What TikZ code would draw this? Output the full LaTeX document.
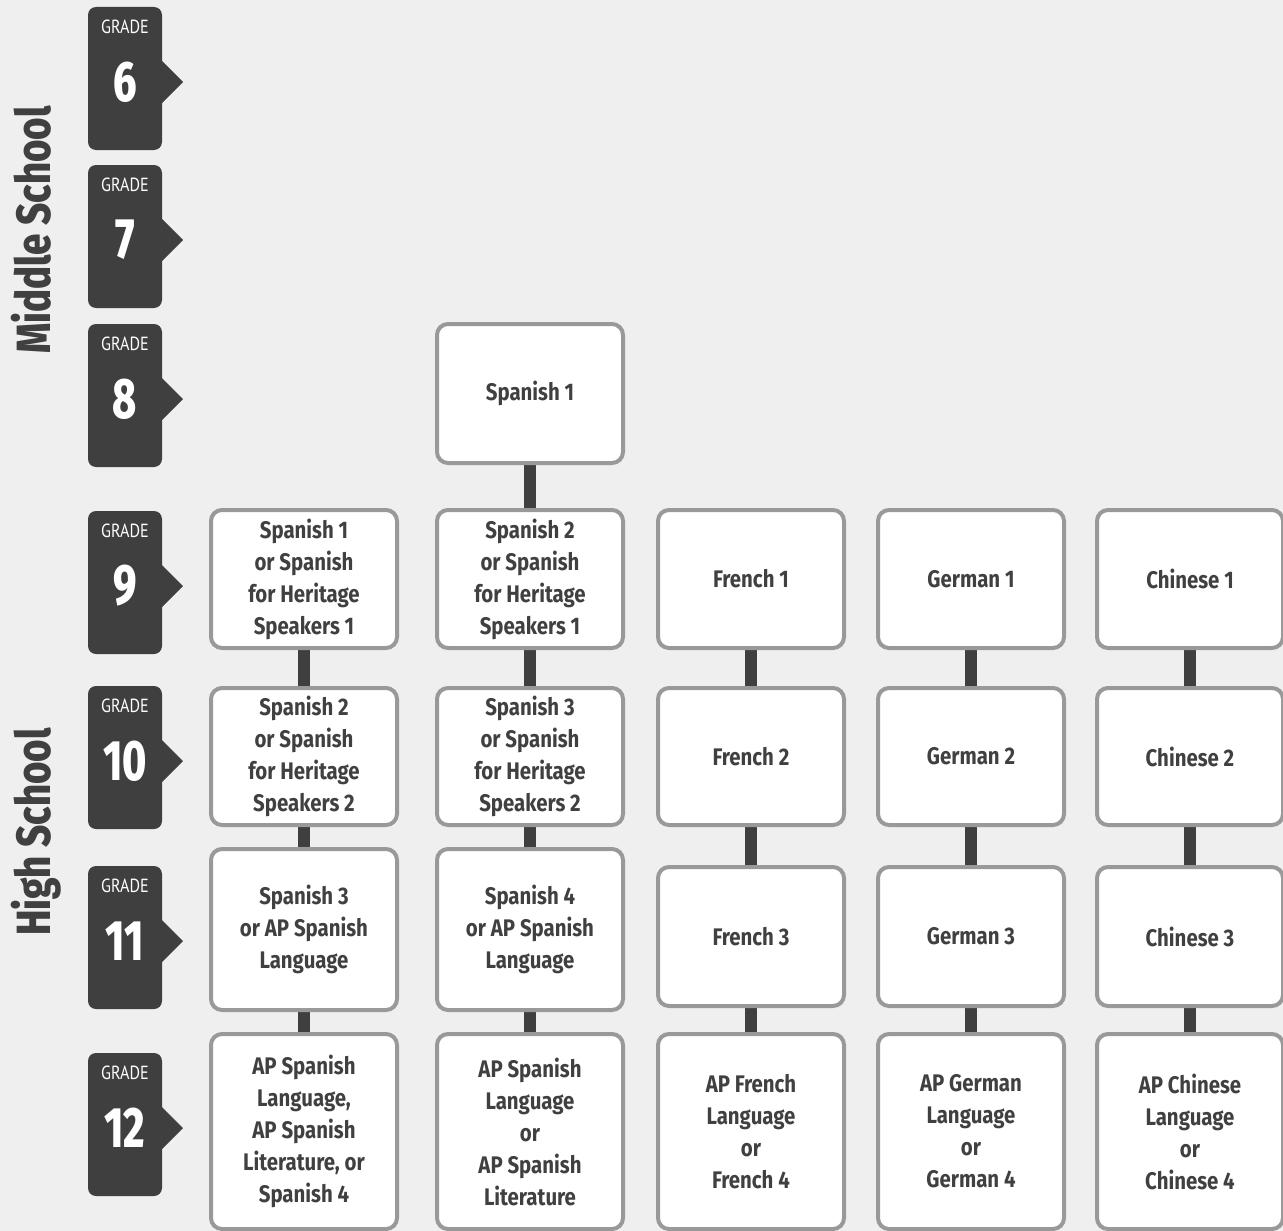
\documentclass[tikz,border=0pt]{standalone}
\usepackage{fontspec}
\setmainfont{PT Sans}
\IfFontExistsTF{Fira Sans ExtraBold}{\def\heavyfont{Fira Sans ExtraBold}}{%
  \IfFontExistsTF{Fira Sans Bold}{\def\heavyfont{Fira Sans Bold}}{\def\heavyfont{PT Sans Bold}}}
\IfFontExistsTF{Fira Sans Bold}{\def\boldfontname{Fira Sans Bold}}{\def\boldfontname{PT Sans Bold}}
\newfontfamily\boxfont[FakeStretch=0.85]{\boldfontname}
\newfontfamily\numfont[FakeStretch=0.72]{\heavyfont}
\newfontfamily\sidefont[FakeStretch=0.8]{\heavyfont}
\newfontfamily\gradefont[FakeStretch=0.85]{PT Sans}
\usetikzlibrary{calc}
\definecolor{bgc}{HTML}{EFEFEF}
\definecolor{tabc}{HTML}{3F3F3F}
\definecolor{bordc}{HTML}{999999}
\definecolor{txtc}{HTML}{404040}
\pgfdeclarelayer{back}
\pgfsetlayers{back,main}
\tikzset{
  box/.style={draw=bordc, line width=4pt, fill=white, rounded corners=11pt,
    minimum width=186pt, align=center, text=txtc, inner sep=0pt, outer sep=0pt,
    font=\boxfont\fontsize{24}{32}\selectfont},
  tab/.style={fill=tabc, rounded corners=8pt, minimum width=74pt, minimum height=143pt,
    inner sep=0pt, outer sep=0pt},
  gradelbl/.style={text=white, inner sep=0pt, font=\gradefont\fontsize{19}{19}\selectfont},
  gradenum/.style={text=white, inner sep=0pt, font=\numfont\fontsize{57}{57}\selectfont},
  sidelbl/.style={text=txtc, inner sep=0pt, rotate=90, anchor=base, font=\sidefont\fontsize{48}{48}\selectfont},
  conn/.style={draw=tabc, line width=12pt}
}
\newcommand\gradetab[3]{% name, top, label
  \node[tab] (#1) at (125,#2+71.5) {};
  \fill[tabc] ($(#1.north east)+(0,54)$) -- ($(#1.north east)+(21,75)$) -- ($(#1.north east)+(0,96)$) -- cycle;
  \node[gradelbl] (#1t) at ($(#1.north)+(0,20)$) {GRADE};
  \node[gradenum] (#1n) at ($(#1.north)+(0,75)$) {#3};
}
\begin{document}
\begin{tikzpicture}[x=1pt,y=-1pt]
\useasboundingbox (0,0) rectangle (1283,1231);
\clip (0,0) rectangle (1283,1231);
\begin{pgfonlayer}{back}
\fill[bgc] (0,0) rectangle (1283,1231);
\end{pgfonlayer}

% side labels
\node[sidelbl] (ms) at (50,230) {Middle School};
\node[sidelbl] (hs) at (50,832) {High School};

% grade tabs
\gradetab{g6}{7}{6}
\gradetab{g7}{165}{7}
\gradetab{g8}{324}{8}
\gradetab{g9}{511}{9}
\gradetab{g10}{686}{10}
\gradetab{g11}{866}{11}
\gradetab{g12}{1053}{12}

% column 1
\node[box, minimum height=138pt] (a9) at (304,579) {Spanish 1\\or Spanish\\for Heritage\\Speakers 1};
\node[box, minimum height=137pt] (a10) at (304,756.5) {Spanish 2\\or Spanish\\for Heritage\\Speakers 2};
\node[box, minimum height=161pt] (a11) at (304,929.5) {Spanish 3\\or AP Spanish\\Language};
\node[box, minimum height=195pt] (a12) at (304,1131.5) {AP Spanish\\Language,\\AP Spanish\\Literature, or\\Spanish 4};
% column 2
\node[box, minimum height=139pt] (b8) at (530,393.5) {Spanish 1};
\node[box, minimum height=138pt] (b9) at (530,579) {Spanish 2\\or Spanish\\for Heritage\\Speakers 1};
\node[box, minimum height=137pt] (b10) at (530,756.5) {Spanish 3\\or Spanish\\for Heritage\\Speakers 2};
\node[box, minimum height=161pt] (b11) at (530,929.5) {Spanish 4\\or AP Spanish\\Language};
\node[box, minimum height=195pt] (b12) at (530,1131.5) {AP Spanish\\Language\\or\\AP Spanish\\Literature};
% column 3
\node[box, minimum height=138pt] (c9) at (751,579) {French 1};
\node[box, minimum height=137pt] (c10) at (751,756.5) {French 2};
\node[box, minimum height=139pt] (c11) at (751,936.5) {French 3};
\node[box, minimum height=195pt] (c12) at (751,1131.5) {AP French\\Language\\or\\French 4};
% column 4
\node[box, minimum height=138pt] (d9) at (971,579) {German 1};
\node[box, minimum height=137pt] (d10) at (971,756.5) {German 2};
\node[box, minimum height=139pt] (d11) at (971,936.5) {German 3};
\node[box, minimum height=195pt] (d12) at (971,1131.5) {AP German\\Language\\or\\German 4};
% column 5
\node[box, minimum height=138pt] (e9) at (1190,579) {Chinese 1};
\node[box, minimum height=137pt] (e10) at (1190,756.5) {Chinese 2};
\node[box, minimum height=139pt] (e11) at (1190,936.5) {Chinese 3};
\node[box, minimum height=195pt] (e12) at (1190,1131.5) {AP Chinese\\Language\\or\\Chinese 4};

% connectors
\begin{pgfonlayer}{back}
\draw[conn] (a9.south) -- (a10.north);
\draw[conn] (a10.south) -- (a11.north);
\draw[conn] (a11.south) -- (a12.north);
\draw[conn] (b8.south) -- (b9.north);
\draw[conn] (b9.south) -- (b10.north);
\draw[conn] (b10.south) -- (b11.north);
\draw[conn] (b11.south) -- (b12.north);
\draw[conn] (c9.south) -- (c10.north);
\draw[conn] (c10.south) -- (c11.north);
\draw[conn] (c11.south) -- (c12.north);
\draw[conn] (d9.south) -- (d10.north);
\draw[conn] (d10.south) -- (d11.north);
\draw[conn] (d11.south) -- (d12.north);
\draw[conn] (e9.south) -- (e10.north);
\draw[conn] (e10.south) -- (e11.north);
\draw[conn] (e11.south) -- (e12.north);
\end{pgfonlayer}
\end{tikzpicture}
\end{document}
